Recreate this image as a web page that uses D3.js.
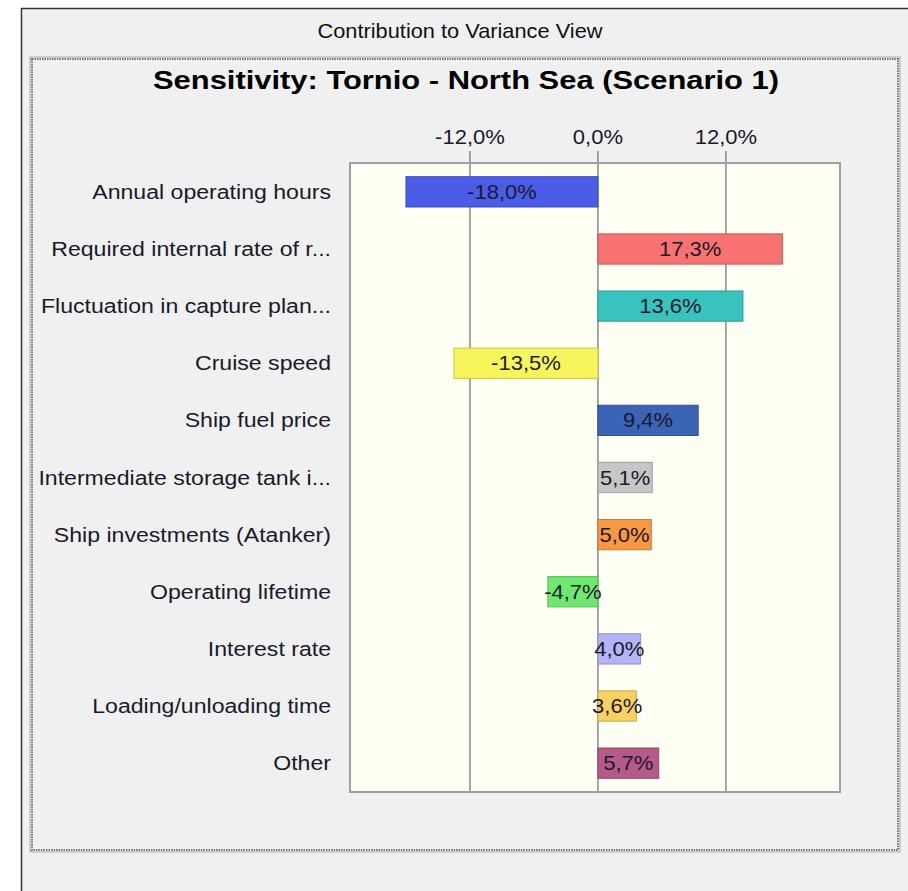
<!DOCTYPE html>
<html>
<head>
<meta charset="utf-8">
<script src="https://cdn.jsdelivr.net/npm/d3@7"></script>
<style>
  html, body { margin: 0; padding: 0; background: #fff; }
  svg { display: block; font-family: "Liberation Sans", Arial, sans-serif; }
</style>
</head>
<body>
<div id="chart"></div>
<script>
// Data
const categories = [
    "Annual operating hours",
    "Required internal rate of r...",
    "Fluctuation in capture plan...",
    "Cruise speed",
    "Ship fuel price",
    "Intermediate storage tank i...",
    "Ship investments (Atanker)",
    "Operating lifetime",
    "Interest rate",
    "Loading/unloading time",
    "Other"
];
const values = [-18.0, 17.3, 13.6, -13.5, 9.4, 5.1, 5.0, -4.7, 4.0, 3.6, 5.7];
const barColors = [
    "#4b5ce8", "#f87272", "#38c3be", "#f6f65c", "#3b63b6", "#c6c6c6",
    "#fa9742", "#70e870", "#b3b3f7", "#f9d163", "#b65a8a"
];
const tickValues = [-12, 0, 12];
const xDomain = [-23.25, 22.7];

const width = 908, height = 891;
const stretch = 1.1; // the original text looks a bit wide

const locale = d3.formatLocale({ decimal: ",", thousands: " ", grouping: [3], currency: ["", ""], minus: "-" });
const fmt = v => locale.format(".1f")(v) + "%";

const svg = d3.select("#chart")
    .append("svg")
    .attr("width", width)
    .attr("height", height);

// window background
svg.append("rect")
    .attr("x", 21).attr("y", 8)
    .attr("width", width - 21).attr("height", height - 8)
    .attr("fill", "#f0f0f0");
svg.append("line")
    .attr("x1", 21).attr("x2", width).attr("y1", 8.5).attr("y2", 8.5)
    .attr("stroke", "#333").attr("stroke-width", 1.5);
svg.append("line")
    .attr("x1", 21.5).attr("x2", 21.5).attr("y1", 8).attr("y2", height)
    .attr("stroke", "#333").attr("stroke-width", 1.5);

svg.append("text")
    .attr("x", 460).attr("y", 38)
    .attr("text-anchor", "middle")
    .attr("font-size", "21px")
    .attr("fill", "#111")
    .attr("textLength", 285)
    .attr("lengthAdjust", "spacingAndGlyphs")
    .text("Contribution to Variance View");

// dotted frame
svg.append("rect")
    .attr("x", 30).attr("y", 57).attr("width", 870).attr("height", 795)
    .attr("fill", "none").attr("stroke", "#a8a8a8").attr("stroke-width", 1);
svg.append("rect")
    .attr("x", 32).attr("y", 59).attr("width", 866).attr("height", 791)
    .attr("fill", "none").attr("stroke", "#777").attr("stroke-width", 2)
    .attr("stroke-dasharray", "1.5,1");

svg.append("text")
    .attr("x", 466).attr("y", 89)
    .attr("text-anchor", "middle")
    .attr("font-size", "26px")
    .attr("font-weight", "bold")
    .attr("fill", "#000")
    .attr("textLength", 626)
    .attr("lengthAdjust", "spacingAndGlyphs")
    .text("Sensitivity: Tornio - North Sea (Scenario 1)");

// plot area
const plot = { left: 350, right: 840, top: 163, bottom: 792 };

const x = d3.scaleLinear()
    .domain(xDomain)
    .range([plot.left, plot.right]);

const y = d3.scaleBand()
    .domain(categories)
    .range([plot.top, plot.bottom])
    .paddingInner(0.47)
    .paddingOuter(0.24);

svg.append("rect")
    .attr("x", plot.left).attr("y", plot.top)
    .attr("width", plot.right - plot.left).attr("height", plot.bottom - plot.top)
    .attr("fill", "#fffff3");

// grid lines and tick labels
const grid = svg.append("g");
grid.selectAll("line")
    .data(tickValues)
    .enter()
    .append("line")
    .attr("x1", d => x(d)).attr("x2", d => x(d))
    .attr("y1", plot.top - 12).attr("y2", plot.bottom)
    .attr("stroke", "#888")
    .attr("stroke-width", 1.5);

grid.selectAll("text")
    .data(tickValues)
    .enter()
    .append("text")
    .attr("transform", d => `translate(${x(d)},144) scale(${stretch},1)`)
    .attr("text-anchor", "middle")
    .attr("font-size", "20px")
    .attr("fill", "#1a1a2a")
    .text(d => fmt(d));

svg.append("rect")
    .attr("x", plot.left).attr("y", plot.top)
    .attr("width", plot.right - plot.left).attr("height", plot.bottom - plot.top)
    .attr("fill", "none")
    .attr("stroke", "#a0a0a0")
    .attr("stroke-width", 2);

// bars
const rows = categories.map((c, i) => ({ cat: c, value: values[i], color: barColors[i] }));

svg.append("g")
    .selectAll("rect")
    .data(rows)
    .enter()
    .append("rect")
    .attr("x", d => x(Math.min(0, d.value)))
    .attr("y", d => y(d.cat))
    .attr("width", d => Math.abs(x(d.value) - x(0)))
    .attr("height", y.bandwidth())
    .attr("fill", d => d.color)
    .attr("stroke", d => d3.color(d.color).darker(0.6))
    .attr("stroke-width", 1);

svg.append("g")
    .selectAll("text")
    .data(rows)
    .enter()
    .append("text")
    .attr("transform", d => `translate(${(x(d.value) + x(0)) / 2},${y(d.cat) + y.bandwidth() / 2 + 7}) scale(${stretch},1)`)
    .attr("text-anchor", "middle")
    .attr("font-size", "20px")
    .attr("fill", "#1a1a2a")
    .text(d => fmt(d.value));

// category labels
svg.append("g")
    .selectAll("text")
    .data(categories)
    .enter()
    .append("text")
    .attr("transform", d => `translate(331,${y(d) + y.bandwidth() / 2 + 7}) scale(${stretch},1)`)
    .attr("text-anchor", "end")
    .attr("font-size", "21px")
    .attr("fill", "#1a1a2a")
    .text(d => d);
</script>
</body>
</html>
